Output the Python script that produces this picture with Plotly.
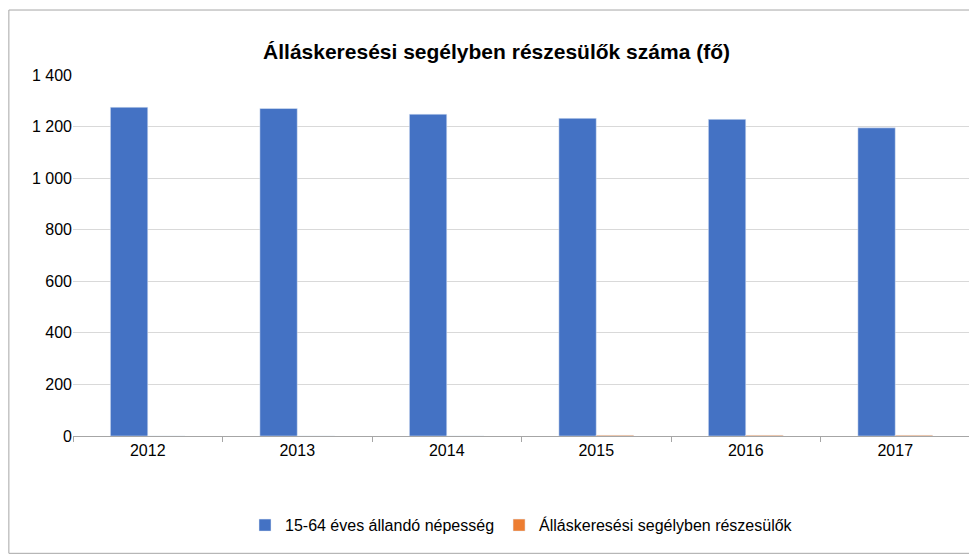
import plotly.graph_objects as go

years = ['2012', '2013', '2014', '2015', '2016', '2017']
population = [1275, 1270, 1248, 1232, 1228, 1195]
recipients = [0, 0, 0, 3, 3, 3]

fig = go.Figure()
fig.add_trace(go.Bar(x=years, y=population, name='15-64 éves állandó népesség',
                     marker_color='#4472C4'))
fig.add_trace(go.Bar(x=years, y=recipients, name='Álláskeresési segélyben részesülők',
                     marker_color='#ED7D31'))

fig.update_layout(
    width=977, height=554,
    paper_bgcolor='white', plot_bgcolor='white',
    font=dict(family='Liberation Sans, Arial, sans-serif', size=16, color='#404040'),
    title=dict(text='<b>Álláskeresési segélyben részesülők száma (fő)</b>',
               x=0.5, xanchor='center', y=0.935, font=dict(size=21, color='black')),
    margin=dict(l=65, r=15, t=67, b=126, autoexpand=False),
    bargap=0.5, bargroupgap=0,
    xaxis=dict(showline=True, linecolor='#a6a6a6', ticks='outside', ticklen=5,
               tickcolor='#a6a6a6', tickson='boundaries', tickfont=dict(color='black')),
    yaxis=dict(range=[0, 1400], dtick=200, tickformat=',d',
               gridcolor='#d9d9d9', zeroline=False, tickfont=dict(color='black')),
    separators=', ',
    legend=dict(orientation='h', x=0.5, xanchor='center', y=-0.2, yanchor='top',
                font=dict(color='black')),
    shapes=[dict(type='rect', xref='paper', yref='paper', x0=-0.0715, x1=1.0155,
                 y0=-0.325, y1=1.18, line=dict(color='#a6a6a6', width=1))],
)

fig.write_html('out.html')
